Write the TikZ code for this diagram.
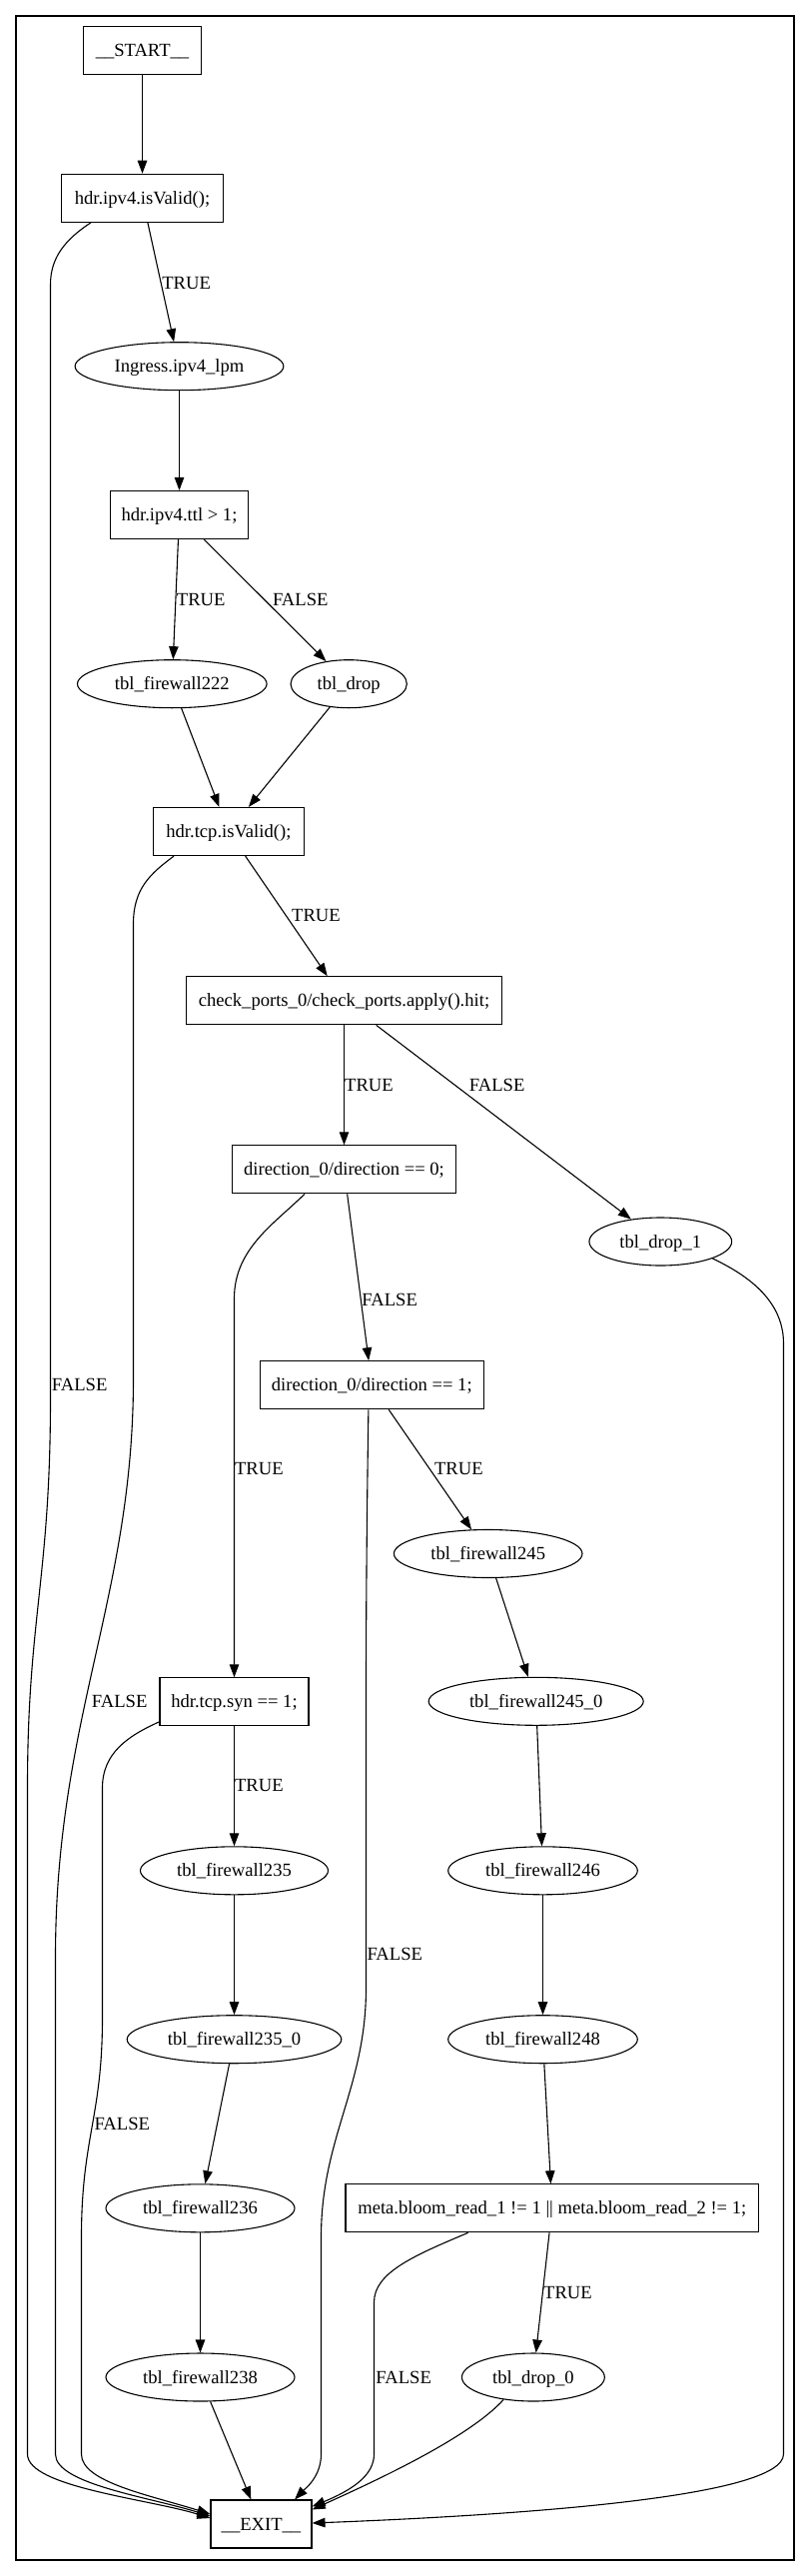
\documentclass[tikz,border=0pt]{standalone}
\usepackage{fontspec}
\setmainfont{Liberation Serif}
\usetikzlibrary{shapes.geometric,arrows.meta}

\tikzset{
  box/.style={draw, rectangle, line width=1.1pt, minimum height=48pt, inner sep=0pt, text height=16pt, text depth=4pt},
  tbl/.style={draw, ellipse, line width=1.1pt, minimum height=48pt, inner sep=0pt, text height=16pt, text depth=4pt},
  edge/.style={line width=1.1pt, -{Triangle[length=13pt,width=9.5pt]}},
  lbl/.style={anchor=west, inner sep=0pt, text height=16pt, text depth=4pt},
  cluster/.style={line width=2.2pt}
}

\begin{document}
\begin{tikzpicture}[x=1pt, y=-1pt, font=\fontsize{18.6}{22}\selectfont]
\useasboundingbox (0,0) rectangle (811,2579);
\draw[cluster] (15.7,15.7) rectangle (795.3,2562.7);

\node[box, minimum width=118pt] (start) at (142.5,50.3) {\_\_START\_\_};
\node[box, minimum width=161.6pt] (ipv4) at (142.5,198.3) {hdr.ipv4.isValid();};
\node[tbl, minimum width=208.8pt] (lpm) at (179.5,366.7) {Ingress.ipv4\_lpm};
\node[box, minimum width=138.7pt] (ttl) at (179.5,515.5) {hdr.ipv4.ttl > 1;};
\node[tbl, minimum width=189.6pt] (fw222) at (172.3,684.7) {tbl\_firewall222};
\node[tbl, minimum width=116.3pt] (drop) at (349.2,684.7) {tbl\_drop};
\node[box, minimum width=151.2pt] (tcp) at (228.9,832.5) {hdr.tcp.isValid();};
\node[box, minimum width=315.9pt] (check) at (344.5,1001.8) {check\_ports\_0/check\_ports.apply().hit;};
\node[box, minimum width=224pt] (dir0) at (344.5,1170.8) {direction\_0/direction == 0;};
\node[tbl, minimum width=142.7pt] (drop1) at (661.3,1243) {tbl\_drop\_1};
\node[box, minimum width=224pt] (dir1) at (372.3,1386.7) {direction\_0/direction == 1;};
\node[tbl, minimum width=188.6pt] (fw245) at (488.7,1555.5) {tbl\_firewall245};
\node[box, minimum width=149pt] (syn) at (234.5,1703.8) {hdr.tcp.syn == 1;};
\node[tbl, minimum width=215pt] (fw2450) at (536.7,1703.3) {tbl\_firewall245\_0};
\node[tbl, minimum width=188pt] (fw235) at (234.5,1872.8) {tbl\_firewall235};
\node[tbl, minimum width=189.6pt] (fw246) at (543.5,1872.8) {tbl\_firewall246};
\node[tbl, minimum width=214.6pt] (fw2350) at (234.5,2041.7) {tbl\_firewall235\_0};
\node[tbl, minimum width=189.6pt] (fw248) at (543.5,2041.7) {tbl\_firewall248};
\node[tbl, minimum width=189pt] (fw236) at (200.5,2210.8) {tbl\_firewall236};
\node[box, minimum width=413.6pt] (meta) at (552.8,2210.8) {meta.bloom\_read\_1 != 1 || meta.bloom\_read\_2 != 1;};
\node[tbl, minimum width=189pt] (fw238) at (200.5,2380) {tbl\_firewall238};
\node[tbl, minimum width=142.9pt] (drop0) at (533.9,2380) {tbl\_drop\_0};
\node[box, minimum width=101pt] (exit) at (261.5,2527) {\_\_EXIT\_\_};

\foreach \a/\b in {start/ipv4, ipv4/lpm, lpm/ttl, ttl/fw222, ttl/drop, fw222/tcp, drop/tcp,
    tcp/check, check/dir0, check/drop1, dir0/dir1, dir1/fw245, fw245/fw2450, fw2450/fw246,
    fw246/fw248, fw248/meta, meta/drop0, syn/fw235, fw235/fw2350, fw2350/fw236, fw236/fw238, fw238/exit}
    \draw[edge] (\a) -- (\b);

\draw[edge] ([xshift=-51.5pt]ipv4.south) .. controls (65,240) and (50.5,258) .. (50.5,285) -- (50.5,1400)
    .. controls (50.5,1580) and (27.5,1620) .. (27.5,1790) -- (27.5,2457)
    .. controls (27.5,2490) and (150,2502) .. ([yshift=6pt]exit.west);
\draw[edge] ([xshift=-54.8pt]tcp.south) .. controls (150,875) and (133.5,890) .. (133.5,925) -- (133.5,1380)
    .. controls (133.5,1600) and (55.5,1720) .. (55.5,1960) -- (55.5,2457)
    .. controls (55.5,2487) and (150,2500) .. ([yshift=8pt]exit.west);
\draw[edge] ([yshift=-20pt]syn.west) .. controls (128,1738) and (102.5,1755) .. (102.5,1790) -- (102.5,2020)
    .. controls (102.5,2120) and (81.5,2140) .. (81.5,2240) -- (81.5,2457)
    .. controls (81.5,2485) and (150,2498) .. ([yshift=10pt]exit.west);
\draw[edge] ([xshift=-39.5pt]dir0.south) .. controls (275,1225) and (234.5,1250) .. (234.5,1300) -- (syn.north);
\draw[edge] ([xshift=-3.4pt]dir1.south) .. controls (367.5,1500) and (366.5,1600) .. (366.5,1700) -- (366.5,1990)
    .. controls (366.5,2090) and (321.5,2140) .. (321.5,2240) -- (321.5,2457)
    .. controls (321.5,2480) and (305,2492) .. ([xshift=-17.5pt]exit.north east);
\draw[edge] ([xshift=-84.2pt]meta.south) .. controls (415,2258) and (374.5,2275) .. (374.5,2305) -- (374.5,2457)
    .. controls (374.5,2478) and (353.3,2492.5) .. ([yshift=-7pt]exit.north east);
\draw[edge] (drop0.217) .. controls (470,2440) and (380,2482) .. ([yshift=-10pt]exit.north east);
\draw[edge] (drop1.-18) .. controls (745,1275) and (784.5,1300) .. (784.5,1345) -- (784.5,2457)
    .. controls (784.5,2500) and (520,2518) .. ([yshift=1pt]exit.east);

\foreach \x/\y/\t [count=\i] in {162.1/283.3/TRUE, 176.7/600/TRUE, 272.8/600/FALSE, 292/916.7/TRUE,
    345/1086/TRUE, 469.7/1086/FALSE, 362.2/1301.7/FALSE, 51.7/1386/FALSE, 234.9/1470.7/TRUE,
    434.9/1470.7/TRUE, 91.7/1703.3/FALSE, 234.9/1787.7/TRUE, 367.3/1956.7/FALSE, 94.3/2126.7/FALSE,
    544/2295/TRUE, 376.2/2380/FALSE}
    \node[lbl] (lab\i) at (\x,\y) {\t};
\end{tikzpicture}
\end{document}
